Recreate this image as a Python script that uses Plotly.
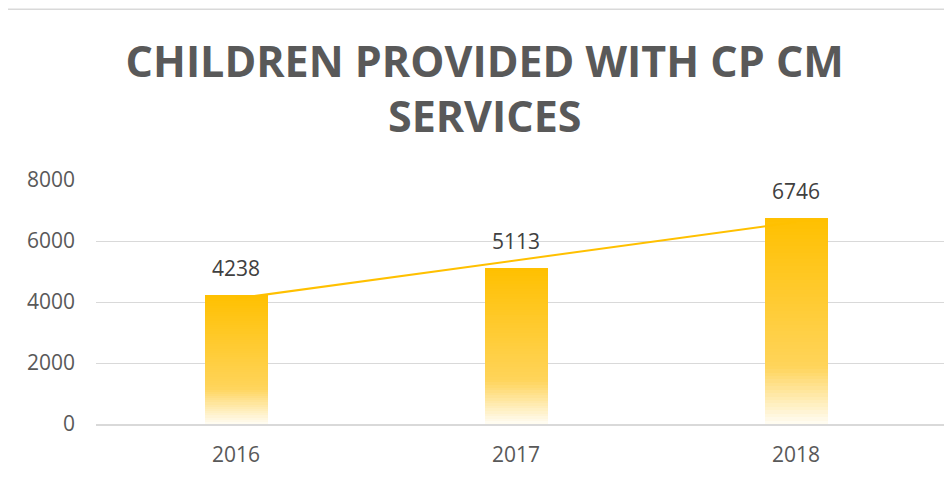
import plotly.graph_objects as go

# Datos
years = ["2016", "2017", "2018"]
children = [4238, 5113, 6746]
trend_years = ["2016", "2018"]
trend_values = [4112, 6620]

title = "CHILDREN PROVIDED WITH CP CM<br>SERVICES"

GOLD = (255, 192, 0)

def grad_color(f):
    # degradado tipo Excel: blanco abajo -> dorado claro -> dorado arriba
    stops = [(0.0, (255, 253, 245)), (0.28, (255, 212, 90)), (1.0, GOLD)]
    for (f0, c0), (f1, c1) in zip(stops[:-1], stops[1:]):
        if f0 <= f <= f1:
            t = (f - f0) / (f1 - f0)
            r, g, b = [round(a + (bb - a) * t) for a, bb in zip(c0, c1)]
            return f"rgb({r},{g},{b})"
    return f"rgb{GOLD}"

fig = go.Figure()

# tendencia primero para que quede detrás de las barras
fig.add_trace(go.Scatter(
    x=trend_years, y=trend_values, mode="lines",
    line=dict(color="#FFC000", width=2),
    hoverinfo="skip", showlegend=False,
))

N = 60
for i in range(N):
    lo = i / N
    fig.add_trace(go.Bar(
        x=years,
        y=[v * (1 - lo) for v in children],
        base=[v * lo for v in children],
        width=0.225,
        marker=dict(color=grad_color((i + 0.5) / N), line=dict(width=0)),
        hoverinfo="skip", showlegend=False,
    ))

# etiquetas de datos (x por índice de categoría)
for i, v in enumerate(children):
    fig.add_annotation(
        x=i, y=v, text=str(v), showarrow=False, yshift=27,
        font=dict(family="Open Sans", size=21, color="#404040"),
    )

# marco del área del gráfico
fig.add_shape(type="rect", xref="paper", yref="paper",
              x0=-0.104, x1=1.2, y0=-0.5, y1=1.70,
              line=dict(color="#D9D9D9", width=1.5), layer="below")

fig.update_layout(
    width=944, height=473,
    barmode="overlay",
    bargap=0,
    paper_bgcolor="white", plot_bgcolor="white",
    margin=dict(l=88, r=0, t=172, b=57),
    title=dict(text=title, x=0.505, xanchor="center", y=0.855, yanchor="top",
               font=dict(family="Open Sans", size=43, color="#595959", weight="bold")),
    xaxis=dict(
        type="category", categoryorder="array", categoryarray=years,
        range=[-0.5, 2.557],
        showgrid=False, showline=True, linecolor="#D9D9D9", linewidth=1.5,
        ticks="", ticklabelstandoff=11,
        tickfont=dict(family="Open Sans", size=21, color="#595959"),
    ),
    yaxis=dict(
        range=[0, 8000], tickvals=[0, 2000, 4000, 6000, 8000],
        showgrid=True, gridcolor="#D9D9D9", gridwidth=1,
        zeroline=False, showline=False, ticks="", ticklabelstandoff=20,
        tickfont=dict(family="Open Sans", size=21, color="#595959"),
    ),
)

fig.write_html("out.html")
